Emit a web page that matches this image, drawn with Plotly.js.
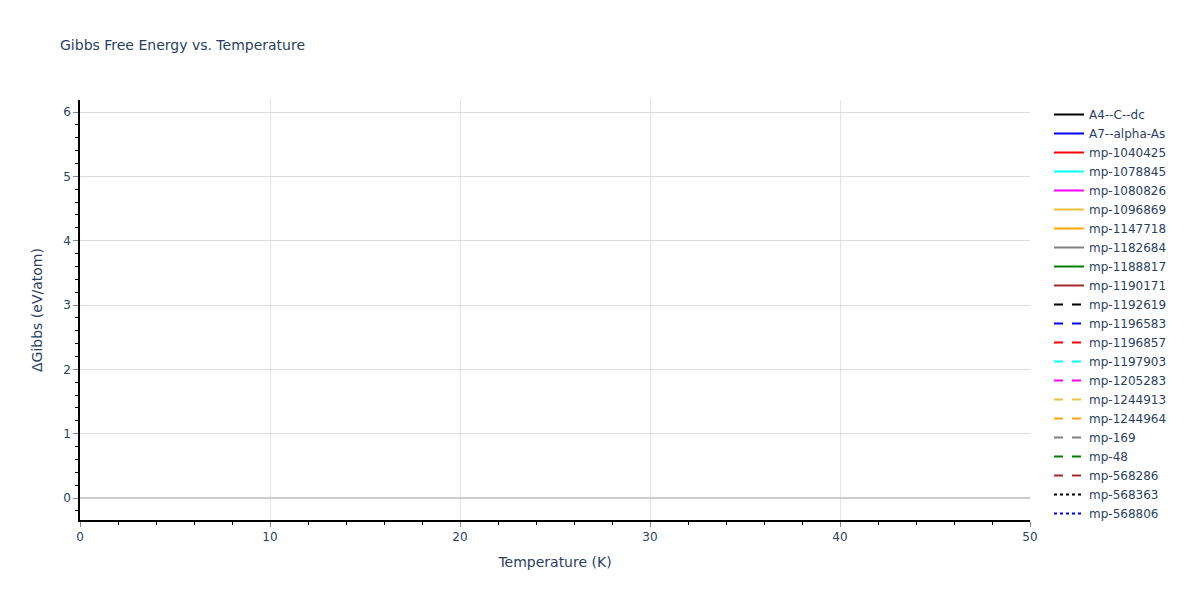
<!DOCTYPE html>
<html>
<head>
<meta charset="utf-8">
<script src="https://cdn.plot.ly/plotly-3.0.1.min.js"></script>
<style>
  body { margin: 0; }
  #chart { width: 1200px; height: 600px; }
</style>
</head>
<body>
<div id="chart"></div>
<script>
// phases shown in the legend, in order
const phaseNames = [
    "A4--C--dc", "A7--alpha-As", "mp-1040425", "mp-1078845", "mp-1080826",
    "mp-1096869", "mp-1147718", "mp-1182684", "mp-1188817", "mp-1190171",
    "mp-1192619", "mp-1196583", "mp-1196857", "mp-1197903", "mp-1205283",
    "mp-1244913", "mp-1244964", "mp-169", "mp-48", "mp-568286",
    "mp-568363", "mp-568806"
];
const phaseColors = [
    "black", "blue", "red", "cyan", "magenta",
    "#efc13b", "orange", "grey", "green", "brown",
    "black", "blue", "red", "cyan", "magenta",
    "#efc13b", "orange", "grey", "green", "brown",
    "black", "blue"
];
const phaseDash = [
    "solid", "solid", "solid", "solid", "solid",
    "solid", "solid", "solid", "solid", "solid",
    "dash", "dash", "dash", "dash", "dash",
    "dash", "dash", "dash", "dash", "dash",
    "dot", "dot"
];
// no curve shows inside the 0-50 K window
const temperature = [null];
const deltaGibbs = [null];

const axisRangeX = [0, 50];
const axisRangeY = [-0.342, 6.187];

let traces = [];
for (let i = 0; i < phaseNames.length; i++) {
    traces.push({
        x: temperature,
        y: deltaGibbs,
        name: phaseNames[i],
        type: 'scatter',
        mode: 'lines',
        showlegend: true,
        line: { color: phaseColors[i], dash: phaseDash[i], width: 2 }
    });
}

Plotly.newPlot('chart', traces, {
    width: 1200,
    height: 600,
    paper_bgcolor: 'white',
    plot_bgcolor: 'white',
    font: { family: 'Verdana, "DejaVu Sans", sans-serif', color: '#2a3f5f', size: 12 },
    margin: { l: 80, r: 170, t: 100, b: 80 },
    title: {
        text: 'Gibbs Free Energy vs. Temperature',
        x: 0.05, xanchor: 'left',
        font: { size: 14 }
    },
    xaxis: {
        title: { text: 'Temperature (K)', font: { size: 14 }, standoff: 14 },
        range: axisRangeX,
        showline: true, linecolor: 'black', linewidth: 1.5,
        gridcolor: '#e3e3e3', zeroline: false,
        ticks: 'outside', tickcolor: '#888', ticklen: 5,
        dtick: 10,
        minor: { ticks: 'outside', ticklen: 3, tickcolor: 'black', dtick: 2, showgrid: false }
    },
    yaxis: {
        title: { text: 'ΔGibbs (eV/atom)', font: { size: 14 } },
        range: axisRangeY,
        showline: true, linecolor: 'black', linewidth: 1.5,
        gridcolor: '#dddddd',
        zeroline: true, zerolinecolor: '#cccccc', zerolinewidth: 2,
        ticks: 'outside', tickcolor: '#888', ticklen: 5,
        dtick: 1,
        minor: { ticks: 'outside', ticklen: 3, tickcolor: 'black', dtick: 0.2, showgrid: false }
    },
    legend: { x: 1.02, y: 1, maxheight: 560, font: { size: 12 } }
}, { displayModeBar: false });
</script>
</body>
</html>
